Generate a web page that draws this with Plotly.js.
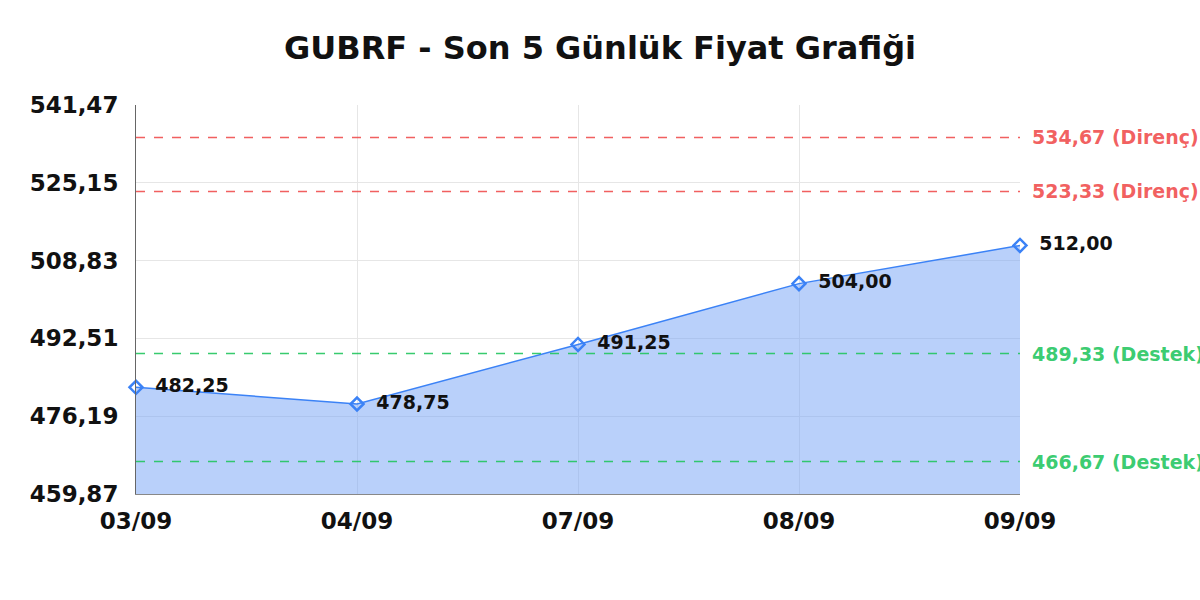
<!DOCTYPE html>
<html>
<head>
<meta charset="utf-8">
<script src="https://cdn.plot.ly/plotly-3.0.1.min.js"></script>
<style>
  html, body { margin: 0; padding: 0; background: #fff; }
  #grafik { width: 1200px; height: 600px; }
</style>
</head>
<body>
<div id="grafik"></div>
<script>
// gunler ve kapanis fiyatlari
var gunler = ['03/09', '04/09', '07/09', '08/09', '09/09'];
var fiyatlar = [482.25, 478.75, 491.25, 504.00, 512.00];

// y ekseni tik degerleri
var yTikler = [459.87, 476.19, 492.51, 508.83, 525.15, 541.47];

// destek / direnc seviyeleri
var direncler = [534.67, 523.33];
var destekler = [489.33, 466.67];

function virgullu(v) {
    return v.toFixed(2).replace('.', ',');
}

var fiyatTrace = {
    x: gunler,
    y: fiyatlar,
    type: 'scatter',
    mode: 'lines+markers+text',
    fill: 'tozeroy',
    fillcolor: 'rgba(120,165,245,0.52)',
    line: { color: '#3b82f6', width: 1.5 },
    marker: {
        symbol: 'diamond-open',
        size: 10,
        color: '#3b82f6',
        line: { width: 2.5, color: '#3b82f6' }
    },
    // bosluklar etiketi noktadan biraz uzaklastiriyor
    text: fiyatlar.map(v => '\u00a0\u00a0<b>' + virgullu(v) + '</b>'),
    textposition: 'middle right',
    textfont: { family: 'DejaVu Sans', size: 19, color: '#111' },
    cliponaxis: false,
    hoverinfo: 'skip'
};

var shapes = [];
var annotations = [];

function seviyeEkle(deger, renk, etiket) {
    shapes.push({
        type: 'line', xref: 'paper', x0: 0, x1: 1,
        yref: 'y', y0: deger, y1: deger,
        line: { color: renk, width: 1.5, dash: 'dash' }
    });
    // etiket grafik kenarinda kesiliyor, referansta da oyle
    annotations.push({
        xref: 'paper', x: 1, xanchor: 'left', xshift: 10,
        yref: 'y', y: deger, yanchor: 'middle',
        text: '<b>' + virgullu(deger) + ' (' + etiket + ')</b>',
        showarrow: false,
        font: { family: 'DejaVu Sans', size: 19, color: renk }
    });
}

direncler.forEach(d => seviyeEkle(d, 'rgba(239,68,68,0.85)', 'Direnç'));
destekler.forEach(d => seviyeEkle(d, 'rgba(34,197,94,0.9)', 'Destek'));

var layout = {
    width: 1200,
    height: 600,
    paper_bgcolor: '#fff',
    plot_bgcolor: '#fff',
    margin: { l: 136, r: 180, t: 105, b: 106 },
    showlegend: false,
    title: {
        text: '<b>GUBRF - Son 5 Günlük Fiyat Grafiği</b>',
        x: 0.5, xref: 'container', xanchor: 'center',
        y: 0.92, yanchor: 'middle',
        font: { family: 'DejaVu Sans', size: 32, color: '#111' }
    },
    xaxis: {
        type: 'category',
        range: [0, 4],
        showgrid: true,
        gridcolor: '#e6e6e6',
        showline: true,
        linecolor: '#888',
        linewidth: 1,
        ticks: '',
        tickfont: { family: 'DejaVu Sans', size: 23, color: '#111' },
        ticklabelstandoff: 6,
        ticktext: gunler.map(g => '<b>' + g + '</b>'),
        tickvals: gunler,
        fixedrange: true
    },
    yaxis: {
        range: [yTikler[0], yTikler[yTikler.length - 1]],
        tickvals: yTikler,
        ticktext: yTikler.map(v => '<b>' + virgullu(v) + '</b>'),
        showgrid: true,
        gridcolor: '#e6e6e6',
        showline: true,
        linecolor: '#666',
        linewidth: 1,
        zeroline: false,
        ticks: '',
        ticklabelstandoff: 12,
        tickfont: { family: 'DejaVu Sans', size: 23, color: '#111' },
        fixedrange: true
    },
    shapes: shapes,
    annotations: annotations
};

Plotly.newPlot('grafik', [fiyatTrace], layout, { displayModeBar: false, staticPlot: true });
</script>
</body>
</html>
